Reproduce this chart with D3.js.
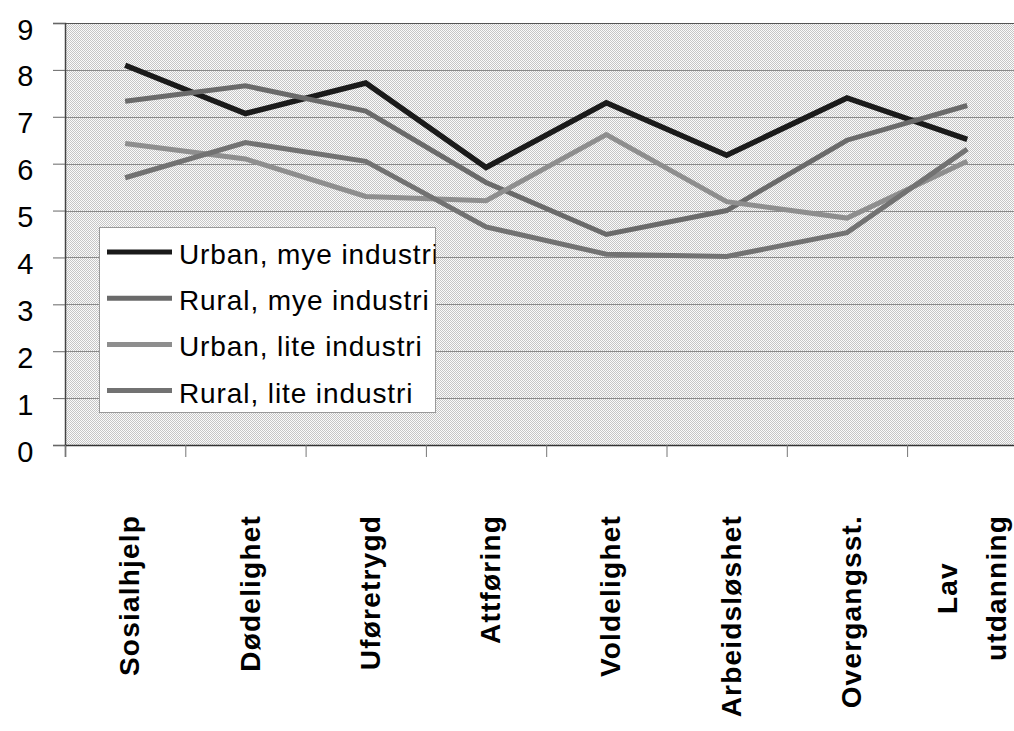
<!DOCTYPE html>
<html>
<head>
<meta charset="utf-8">
<script src="https://cdn.jsdelivr.net/npm/d3@7"></script>
<style>
  html, body { margin: 0; padding: 0; background: #fff; }
  svg { display: block; }
  text { font-family: Arial, "Liberation Sans", sans-serif; fill: #000; }
</style>
</head>
<body>
<svg id="chart" width="1014" height="731"></svg>
<script>
const categories = ["Sosialhjelp", "Dødelighet", "Uføretrygd", "Attføring", "Voldelighet", "Arbeidsløshet", "Overgangsst.", "Lav utdanning"];
const seriesNames = ["Urban, mye industri", "Rural, mye industri", "Urban, lite industri", "Rural, lite industri"];
const urbanMye  = [8.10, 7.07, 7.72, 5.92, 7.30, 6.18, 7.40, 6.52];
const ruralMye  = [7.33, 7.66, 7.12, 5.60, 4.49, 5.00, 6.50, 7.24];
const urbanLite = [6.43, 6.10, 5.30, 5.21, 6.62, 5.19, 4.84, 6.05];
const ruralLite = [5.70, 6.45, 6.05, 4.65, 4.07, 4.02, 4.53, 6.31];
const yTicks = [0, 1, 2, 3, 4, 5, 6, 7, 8, 9];

const seriesValues = [urbanMye, ruralMye, urbanLite, ruralLite];
const seriesColors = ["#1a1a1a", "#6a6a6a", "#8e8e8e", "#727272"];

const svg = d3.select("#chart");
const plot = { left: 65, top: 23, bottom: 445, catW: 120.3 };
plot.right = plot.left + categories.length * plot.catW;

const x = d3.scaleBand().domain(categories).range([plot.left, plot.right]).padding(0);
const xb = d3.scaleLinear().domain([0, categories.length]).range([plot.left, plot.right]);
const y = d3.scaleLinear().domain([0, 9]).range([plot.bottom, plot.top]);

// dithered background pattern
const defs = svg.append("defs");
const pat = defs.append("pattern").attr("id", "dots").attr("patternUnits", "userSpaceOnUse")
  .attr("width", 2).attr("height", 2);
pat.append("rect").attr("width", 2).attr("height", 2).attr("fill", "#fbfbfb");
pat.append("rect").attr("x", 0).attr("y", 0).attr("width", 1).attr("height", 1).attr("fill", "#c6c6c6");
pat.append("rect").attr("x", 1).attr("y", 1).attr("width", 1).attr("height", 1).attr("fill", "#c6c6c6");

svg.append("rect").attr("x", plot.left).attr("y", plot.top)
  .attr("width", plot.right - plot.left).attr("height", plot.bottom - plot.top)
  .attr("fill", "url(#dots)");

// gridlines
svg.append("g").selectAll("line").data(yTicks.filter(d => d > 0)).join("line")
  .attr("x1", plot.left).attr("x2", plot.right)
  .attr("y1", d => Math.round(y(d)) + 0.5).attr("y2", d => Math.round(y(d)) + 0.5)
  .attr("stroke", d => d === 9 ? "#555" : "#8a8a8a").attr("stroke-width", 1);

// y axis
const yAxis = svg.append("g").attr("transform", `translate(${plot.left},0)`)
  .call(d3.axisLeft(y).tickValues(yTicks).tickSize(12).tickPadding(0).tickFormat(""));
yAxis.select(".domain").attr("stroke", "#444").attr("stroke-width", 1.5);
yAxis.selectAll(".tick line").attr("stroke", "#666");
yAxis.selectAll(".tick").append("text")
  .attr("x", -31).attr("y", 16)
  .attr("text-anchor", "end")
  .style("font-size", "29px").style("letter-spacing", "0.5px")
  .text(d => d);

// x axis (category boundaries)
const xAxis = svg.append("g").attr("transform", `translate(0,${plot.bottom})`)
  .call(d3.axisBottom(xb).tickValues(d3.range(categories.length + 1)).tickSize(12).tickFormat(""));
xAxis.select(".domain").attr("stroke", "#333").attr("stroke-width", 1.5);
xAxis.selectAll(".tick line").attr("stroke", "#777");

// category labels (rotated, top-aligned)
const labelTop = 515;
const lab = svg.append("g").selectAll("g").data(categories).join("g")
  .attr("transform", d => `translate(${x(d) + x.bandwidth() / 2 + 4},${labelTop}) rotate(-90)`);
lab.each(function(d) {
  const g = d3.select(this);
  const lines = d.split(" ");
  const gap = 49;
  const texts = lines.map((ln, i) => g.append("text")
    .attr("y", (i - (lines.length - 1) / 2) * gap)
    .attr("dy", "0.36em")
    .style("font-size", "28px").style("font-weight", "bold").style("letter-spacing", "1.2px")
    .text(ln));
  const maxW = d3.max(texts, t => t.node().getComputedTextLength());
  texts.forEach(t => t.attr("text-anchor", "middle").attr("x", -maxW / 2));
});

// lines
const line = d3.line().x((d, i) => x(categories[i]) + x.bandwidth() / 2).y(d => y(d));
svg.append("g").selectAll("path").data(seriesValues).join("path")
  .attr("d", d => line(d))
  .attr("fill", "none")
  .attr("stroke", (d, i) => seriesColors[i])
  .attr("stroke-width", (d, i) => i === 0 ? 5.5 : 5)
  .attr("stroke-linejoin", "miter");

// legend
const lg = { x: 99.5, y: 227.5, w: 336, h: 185 };
defs.append("clipPath").attr("id", "legclip").append("rect")
  .attr("x", lg.x).attr("y", lg.y).attr("width", lg.w).attr("height", lg.h);
const legend = svg.append("g");
legend.append("rect").attr("x", lg.x).attr("y", lg.y).attr("width", lg.w).attr("height", lg.h)
  .attr("fill", "#fff").attr("stroke", "#999").attr("stroke-width", 1);
const items = legend.append("g").attr("clip-path", "url(#legclip)")
  .selectAll("g").data(seriesNames).join("g")
  .attr("transform", (d, i) => `translate(0,${252 + i * 46.2})`);
items.append("line").attr("x1", 107).attr("x2", 172).attr("y1", 0).attr("y2", 0)
  .attr("stroke", (d, i) => seriesColors[i]).attr("stroke-width", 5);
items.append("text").attr("x", 179).attr("y", 12)
  .style("font-size", "28px").style("letter-spacing", "0.9px")
  .text(d => d);
</script>
</body>
</html>
